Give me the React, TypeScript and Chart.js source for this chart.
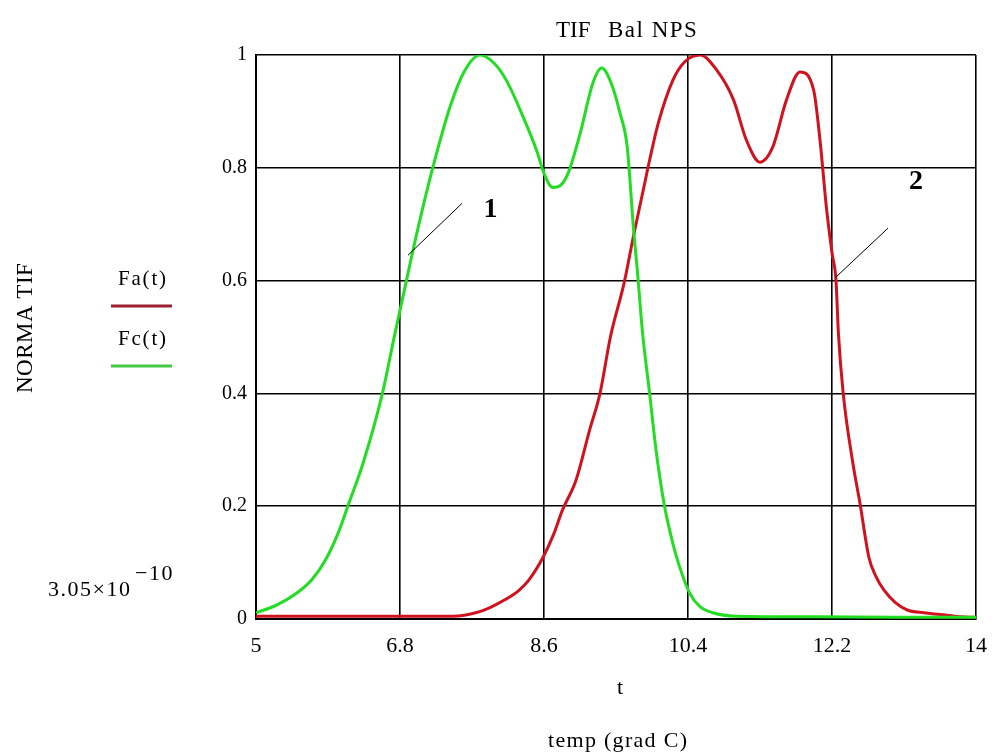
import React, { useEffect, useRef } from "react";
import { Chart, registerables } from "chart.js";

Chart.register(...registerables);

// Fc(t) — green curve
const FC_T = [5.0, 5.25, 5.51, 5.7, 5.87, 6.02, 6.16, 6.34, 6.58, 6.72, 6.88, 7.02, 7.2, 7.43, 7.6, 7.8, 7.98, 8.13, 8.34, 8.51, 8.6, 8.71, 8.8, 8.9, 9.05, 9.21, 9.32, 9.44, 9.55, 9.64, 9.72, 9.77, 9.83, 9.92, 10.0, 10.1, 10.2, 10.28, 10.42, 10.55, 10.71, 11.0, 12.0, 13.0, 14.0];
const FC_V = [0.011, 0.024, 0.046, 0.07, 0.105, 0.15, 0.205, 0.277, 0.40, 0.495, 0.6, 0.69, 0.795, 0.91, 0.97, 1.0, 0.985, 0.955, 0.89, 0.83, 0.79, 0.765, 0.768, 0.79, 0.86, 0.95, 0.977, 0.95, 0.897, 0.837, 0.69, 0.613, 0.51, 0.40, 0.3, 0.205, 0.14, 0.099, 0.046, 0.022, 0.011, 0.005, 0.004, 0.003, 0.003];

// Fa(t) — red curve
const FA_T = [5.0, 6.0, 7.0, 7.46, 7.77, 7.95, 8.11, 8.28, 8.41, 8.59, 8.72, 8.83, 9.0, 9.17, 9.3, 9.43, 9.6, 9.72, 9.84, 9.93, 10.03, 10.21, 10.36, 10.55, 10.76, 10.97, 11.13, 11.3, 11.46, 11.63, 11.8, 11.97, 12.05, 12.13, 12.2, 12.25, 12.28, 12.34, 12.46, 12.55, 12.66, 12.75, 12.85, 13.0, 13.14, 13.35, 13.55, 13.8, 14.0];
const FA_V = [0.005, 0.005, 0.005, 0.005, 0.012, 0.022, 0.034, 0.05, 0.069, 0.11, 0.15, 0.193, 0.246, 0.335, 0.40, 0.50, 0.595, 0.68, 0.76, 0.82, 0.88, 0.955, 0.988, 1.0, 0.973, 0.92, 0.849, 0.81, 0.837, 0.92, 0.97, 0.938, 0.849, 0.73, 0.649, 0.60, 0.507, 0.40, 0.277, 0.205, 0.11, 0.075, 0.051, 0.028, 0.016, 0.011, 0.008, 0.004, 0.003];

const X_TICKS = [5, 6.8, 8.6, 10.4, 12.2, 14];
const Y_TICKS = [0, 0.2, 0.4, 0.6, 0.8, 1];
const X_TICK_LABELS = ["5", "6.8", "8.6", "10.4", "12.2", "14"];
const Y_TICK_LABELS = ["0", "0.2", "0.4", "0.6", "0.8", "1"];

const SERIF = '"Liberation Serif", "Times New Roman", serif';
const GREEN = "#22dd22";
const RED = "#d0121f";

const textPlugin = {
  id: "mathcadTexts",
  afterDraw(chart: any) {
    const ctx = chart.ctx as any;
    const xs = chart.scales.x;
    const ys = chart.scales.y;
    ctx.save();
    ctx.fillStyle = "#000";
    ctx.textBaseline = "middle";

    // Title
    ctx.font = `23px ${SERIF}`;
    ctx.textAlign = "left";
    ctx.letterSpacing = "0px";
    ctx.fillText("TIF", 556, 31);
    ctx.letterSpacing = "1.5px";
    ctx.fillText("Bal NPS", 608, 31);

    // axis titles
    ctx.textAlign = "left";
    ctx.letterSpacing = "1px";
    ctx.font = `22px ${SERIF}`;
    ctx.fillText("t", 617, 688);
    ctx.font = `22px ${SERIF}`;
    ctx.letterSpacing = "1.3px";
    ctx.fillText("temp (grad C)", 548, 741);

    ctx.save();
    ctx.translate(26, 393);
    ctx.rotate(-Math.PI / 2);
    ctx.font = `23px ${SERIF}`;
    ctx.letterSpacing = "0.5px";
    ctx.fillText("NORMA TIF", 0, 0);
    ctx.restore();

    // legend
    ctx.font = `21px ${SERIF}`;
    ctx.letterSpacing = "1.8px";
    ctx.fillText("Fa(t)", 118, 279);
    ctx.fillText("Fc(t)", 118, 339);
    ctx.letterSpacing = "0px";
    ctx.lineWidth = 3;
    ctx.strokeStyle = "#9b2030";
    ctx.beginPath();
    ctx.moveTo(111, 306);
    ctx.lineTo(172, 306);
    ctx.stroke();
    ctx.strokeStyle = "#44c844";
    ctx.beginPath();
    ctx.moveTo(111, 366);
    ctx.lineTo(172, 366);
    ctx.stroke();

    // lower limit note
    ctx.font = `22px ${SERIF}`;
    ctx.letterSpacing = "1.5px";
    ctx.fillText("3.05\u00d710", 48, 590);
    ctx.font = `22px ${SERIF}`;
    ctx.letterSpacing = "1.5px";
    ctx.fillText("\u221210", 135, 574);
    ctx.letterSpacing = "0px";

    // curve labels
    ctx.strokeStyle = "#000";
    ctx.lineWidth = 1;
    ctx.beginPath();
    ctx.moveTo(xs.getPixelForValue(6.9), ys.getPixelForValue(0.645));
    ctx.lineTo(xs.getPixelForValue(7.575), ys.getPixelForValue(0.737));
    ctx.moveTo(xs.getPixelForValue(12.24), ys.getPixelForValue(0.605));
    ctx.lineTo(xs.getPixelForValue(12.9), ys.getPixelForValue(0.693));
    ctx.stroke();
    ctx.textAlign = "center";
    ctx.font = `bold 28px ${SERIF}`;
    ctx.fillText("1", xs.getPixelForValue(7.93), ys.getPixelForValue(0.725));
    ctx.fillText("2", xs.getPixelForValue(13.25), ys.getPixelForValue(0.776));
    ctx.restore();
  },
};

export default function App() {
  const ref = useRef<HTMLCanvasElement | null>(null);
  useEffect(() => {
    if (!ref.current) return;
    const chart = new Chart(ref.current, {
      type: "scatter",
      data: {
        datasets: [
          {
            label: "Fc(t)",
            data: FC_T.map((t, i) => ({ x: t, y: FC_V[i] })),
            borderColor: GREEN,
            backgroundColor: GREEN,
            showLine: true,
            borderWidth: 3,
            pointRadius: 0,
            cubicInterpolationMode: "monotone",
          } as any,
          {
            label: "Fa(t)",
            data: FA_T.map((t, i) => ({ x: t, y: FA_V[i] })),
            borderColor: RED,
            backgroundColor: RED,
            showLine: true,
            borderWidth: 3,
            pointRadius: 0,
            cubicInterpolationMode: "monotone",
          } as any,
        ],
      },
      options: {
        animation: false,
        responsive: false,
        layout: { padding: { left: 0, top: 55, right: 16, bottom: 0 } },
        plugins: { legend: { display: false }, title: { display: false }, tooltip: { enabled: false } },
        scales: {
          x: {
            type: "linear",
            min: 5,
            max: 14,
            afterBuildTicks: (s: any) => {
              s.ticks = X_TICKS.map((v) => ({ value: v }));
            },
            afterFit: (s: any) => {
              s.height = 137;
              s.paddingLeft = 0;
              s.paddingRight = 0;
            },
            ticks: {
              color: "#000",
              font: { family: SERIF, size: 22 },
              padding: 14,
              maxRotation: 0,
              autoSkip: false,
              callback: (v: any) => {
                const i = X_TICKS.indexOf(Number(v));
                return i >= 0 ? X_TICK_LABELS[i] : String(v);
              },
            },
            grid: { color: "#000", lineWidth: 1.6, drawTicks: false },
            border: { color: "#000", width: 2 },
          },
          y: {
            type: "linear",
            min: 0,
            max: 1,
            afterBuildTicks: (s: any) => {
              s.ticks = Y_TICKS.map((v) => ({ value: v }));
            },
            afterFit: (s: any) => {
              s.width = 256;
            },
            ticks: {
              color: "#000",
              font: { family: SERIF, size: 20 },
              padding: 9,
              autoSkip: false,
              callback: (v: any) => {
                const i = Y_TICKS.indexOf(Number(v));
                return i >= 0 ? Y_TICK_LABELS[i] : String(v);
              },
            },
            grid: { color: "#000", lineWidth: 1.6, drawTicks: false },
            border: { color: "#000", width: 2 },
          },
        },
      },
      plugins: [textPlugin],
    });
    return () => chart.destroy();
  }, []);
  return (
    <div style={{ position: "absolute", left: 0, top: 0, width: 992, height: 756, background: "#fff" }}>
      <canvas ref={ref} width={992} height={756} style={{ display: "block", width: 992, height: 756 }} />
    </div>
  );
}
